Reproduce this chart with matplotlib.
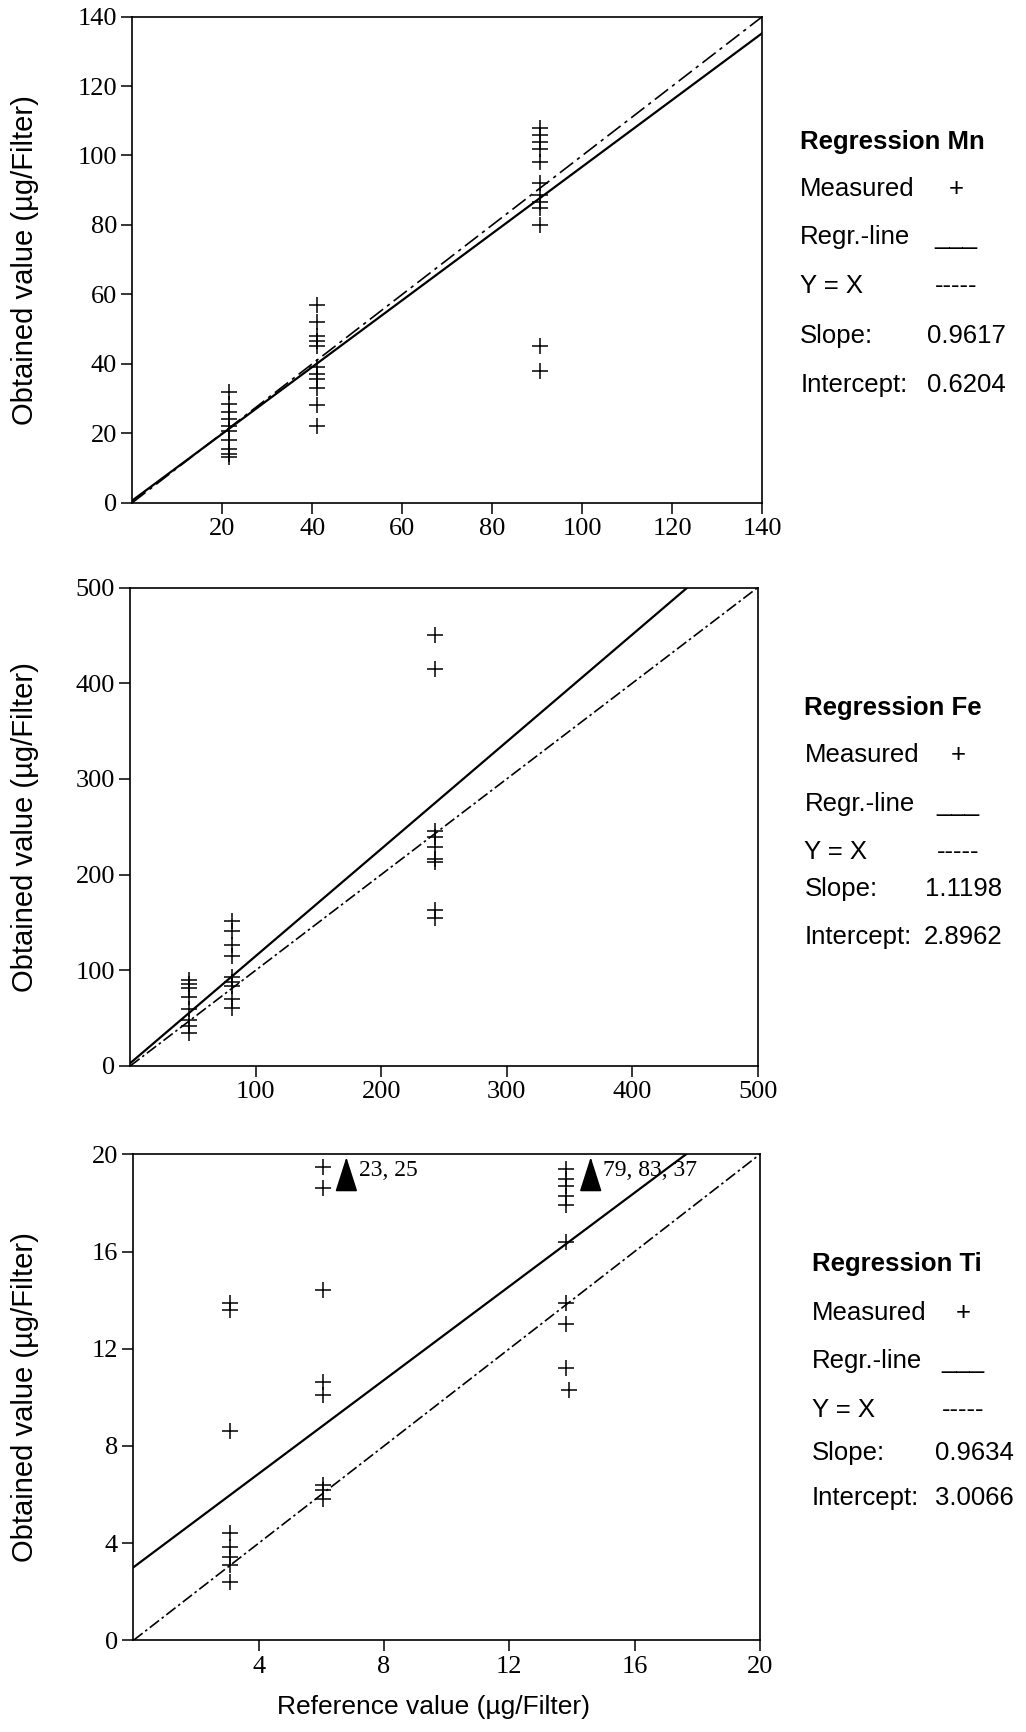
import matplotlib.pyplot as plt

# --- data ---
mn_x = [21.5] * 10 + [41] * 11 + [90.5] * 12
mn_y = [32, 28.5, 26, 24, 22, 20.5, 18, 15.5, 14, 13,
        57, 52, 48, 46.5, 45, 39, 37, 35.5, 33, 28, 22,
        108, 106, 104, 102, 98, 92, 88.5, 86.5, 85, 80, 45, 38]
mn_slope, mn_icpt = 0.9617, 0.6204

fe_x = [47] * 8 + [81] * 9 + [243] * 9
fe_y = [90, 85.5, 81, 72, 59.5, 47.5, 41.5, 34,
        151, 141, 126, 115, 93, 88, 84, 70, 61,
        450, 415, 246, 239, 229, 216, 213, 163, 155]
fe_slope, fe_icpt = 1.1198, 2.8962

ti_x = [3.1] * 8 + [6.05] * 8 + [13.8] * 9 + [13.9]
ti_y = [13.9, 13.6, 8.6, 4.4, 3.85, 3.45, 3.1, 2.4,
        19.5, 18.6, 14.4, 10.65, 10.1, 6.4, 6.2, 5.8,
        19.4, 19.0, 18.7, 18.3, 17.9, 16.4, 13.9, 13.0, 11.2, 10.3]
ti_slope, ti_icpt = 0.9634, 3.0066
ti_offscale = [(6.8, "23, 25"), (14.6, "79, 83, 37")]

serif = "Liberation Serif"
sans = "Liberation Sans"
plt.rcParams["font.family"] = serif

fig = plt.figure(figsize=(10.26, 17.32), dpi=100)

panels = [
    ([0.129, 0.7098, 0.614, 0.2806], mn_x, mn_y, mn_slope, mn_icpt, 140,
     [20, 40, 60, 80, 100, 120, 140], [0, 20, 40, 60, 80, 100, 120, 140],
     (0, (10, 3, 2, 3))),
    ([0.127, 0.3846, 0.6114, 0.2761], fe_x, fe_y, fe_slope, fe_icpt, 500,
     [100, 200, 300, 400, 500], [0, 100, 200, 300, 400, 500],
     (0, (7, 2, 1.5, 2))),
    ([0.130, 0.0529, 0.6106, 0.2806], ti_x, ti_y, ti_slope, ti_icpt, 20,
     [4, 8, 12, 16, 20], [0, 4, 8, 12, 16, 20],
     (0, (7, 2, 1.5, 2))),
]

axes = []
for rect, xs, ys, slope, icpt, top, xt, yt, dash in panels:
    ax = fig.add_axes(rect)
    ax.set_xlim(0, top)
    ax.set_ylim(0, top)
    line_x = [0, top]
    ax.plot(line_x, [icpt, slope * top + icpt], color="black", lw=1.6)
    ax.plot(line_x, line_x, color="black", lw=1.2, linestyle=dash)
    ax.plot(xs, ys, linestyle="none", marker="+", color="black", ms=12, mew=1.1)
    ax.set_xticks(xt)
    ax.set_yticks(yt)
    ax.tick_params(direction="out", length=8, width=1.1, labelsize=19, pad=3)
    for sp in ax.spines.values():
        sp.set_linewidth(1.2)
    axes.append(ax)

# off-scale values in the Ti panel
ax_ti = axes[2]
for xv, label in ti_offscale:
    ax_ti.annotate("", xy=(xv, 20), xytext=(xv, 18.8),
                   arrowprops=dict(arrowstyle="-|>,head_length=1.0,head_width=0.32",
                                   color="black", lw=1.2, mutation_scale=22))
    ax_ti.text(xv + 0.4, 19.35, label, fontsize=17, family=serif, va="center")

# axis labels
for rect in [p[0] for p in panels]:
    fig.text(0.024, rect[1] + rect[3] / 2, "Obtained value (\u00b5g/Filter)",
             rotation=90, ha="center", va="center", fontsize=21, family=sans)
fig.text(0.423, 0.0147, "Reference value (\u00b5g/Filter)",
         ha="center", va="center", fontsize=19, family=sans)

# legend blocks on the right
legends = [
    (0.780, [0.918, 0.891, 0.863, 0.835, 0.806, 0.778], 0.932, 0.980, "Mn", "0.9617", "0.6204"),
    (0.784, [0.591, 0.564, 0.536, 0.508, 0.487, 0.459], 0.934, 0.977, "Fe", "1.1198", "2.8962"),
    (0.791, [0.270, 0.242, 0.214, 0.186, 0.161, 0.135], 0.939, 0.988, "Ti", "0.9634", "3.0066"),
]
fs = 18.5
for lx, ly, sym_x, val_x, name, slope_s, icpt_s in legends:
    fig.text(lx, ly[0], "Regression " + name, fontsize=fs, fontweight="bold",
             family=sans, va="center")
    fig.text(lx, ly[1], "Measured", fontsize=fs, family=sans, va="center")
    fig.text(sym_x, ly[1], "+", fontsize=fs, family=sans, va="center", ha="center")
    fig.text(lx, ly[2], "Regr.-line", fontsize=fs, family=sans, va="center")
    fig.text(sym_x, ly[2], "___", fontsize=fs, family=sans, va="center", ha="center")
    fig.text(lx, ly[3], "Y = X", fontsize=fs, family=sans, va="center")
    fig.text(sym_x, ly[3], "-----", fontsize=fs, family=sans, va="center", ha="center")
    fig.text(lx, ly[4], "Slope:", fontsize=fs, family=sans, va="center")
    fig.text(val_x, ly[4], slope_s, fontsize=fs, family=sans, va="center", ha="right")
    fig.text(lx, ly[5], "Intercept:", fontsize=fs, family=sans, va="center")
    fig.text(val_x, ly[5], icpt_s, fontsize=fs, family=sans, va="center", ha="right")

fig.savefig("out.png", dpi=100)
